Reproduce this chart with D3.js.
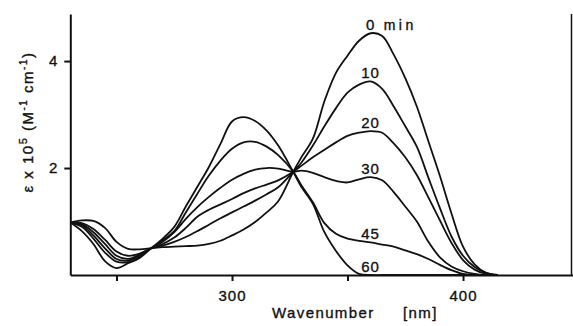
<!DOCTYPE html>
<html>
<head>
<meta charset="utf-8">
<script src="https://cdnjs.cloudflare.com/ajax/libs/d3/7.8.5/d3.min.js"></script>
<style>
  body { margin: 0; background: #fff; }
  svg { display: block; font-family: "Liberation Sans", Arial, sans-serif; }
  .lbl { fill: #111; stroke: #111; stroke-width: 0.35px; }
</style>
</head>
<body>
<script>
// wavelength grid (nm) and absorbance readings (x 10^5) for each irradiation time
var wavelengths = [230,235,240,245,250,255,260,265,270,275,280,285,290,295,300,305,310,315,320,326.5,
                   330,335,340,345,350,355,360,365,370,375,380,385,390,395,400,405,410,415];
var times = [0, 10, 20, 30, 45, 60];
var eps_0 = [0.98,1.02,1.01,0.88,0.62,0.49,0.48,0.50,0.52,0.53,0.54,0.55,0.58,0.64,0.74,0.85,0.99,1.17,1.38,1.93,
             2.2,2.55,3.25,3.78,4.1,4.38,4.52,4.47,4.12,3.68,3.15,2.5,1.85,1.15,0.53,0.2,0.04,0];
var eps_10 = [0.98,0.97,0.86,0.66,0.44,0.36,0.40,0.50,0.55,0.62,0.71,0.82,0.94,1.06,1.17,1.28,1.39,1.51,1.64,1.93,
              2.1,2.42,2.78,3.12,3.41,3.56,3.62,3.48,3.15,2.78,2.4,1.82,1.25,0.72,0.36,0.15,0.04,0];
var eps_20 = [0.98,0.95,0.8,0.58,0.36,0.3,0.38,0.50,0.58,0.7,0.88,1.09,1.22,1.32,1.42,1.53,1.62,1.69,1.77,1.93,
              2.04,2.2,2.34,2.48,2.6,2.66,2.69,2.66,2.46,2.2,1.87,1.45,1.02,0.6,0.28,0.1,0.02,0];
var eps_30 = [0.98,0.93,0.74,0.5,0.3,0.27,0.36,0.50,0.62,0.8,1.05,1.27,1.46,1.63,1.78,1.89,1.97,2.0,1.99,1.93,
              1.95,1.91,1.83,1.76,1.73,1.79,1.83,1.77,1.55,1.28,1.0,0.62,0.33,0.16,0.07,0.02,0,0];
var eps_45 = [0.98,0.9,0.68,0.42,0.25,0.24,0.34,0.50,0.65,0.82,1.17,1.52,1.86,2.14,2.36,2.48,2.49,2.4,2.24,1.93,
              1.68,1.36,0.97,0.77,0.68,0.64,0.61,0.57,0.53,0.46,0.39,0.3,0.19,0.09,0.02,0,0,0];
var eps_60 = [0.98,0.82,0.58,0.26,0.13,0.22,0.32,0.50,0.68,0.9,1.28,1.65,2.02,2.45,2.87,2.95,2.88,2.7,2.42,1.93,
              1.65,1.33,0.8,0.45,0.18,0.02,0,0,0,0,0,0,0,0,0,0,0,0];
var xTicks = [250, 300, 350, 400];
var xTickLabels = ["", "300", "", "400"];
var yTicks = [2, 4];

var series = [eps_0, eps_10, eps_20, eps_30, eps_45, eps_60];
var width = 573, height = 326;

var svg = d3.select('body').append('svg').attr('width', width).attr('height', height);

var x = d3.scaleLinear().domain([230, 447.6]).range([70.3, 573]);
var y = d3.scaleLinear().domain([0, 4.88]).range([275, 14]);

// axes
var xAxis = svg.append('g').attr('transform', 'translate(0,275)')
  .call(d3.axisBottom(x).tickValues(xTicks).tickSize(6).tickSizeOuter(0)
    .tickFormat(function (d, i) { return xTickLabels[i]; }));
var yAxis = svg.append('g').attr('transform', 'translate(70.3,0)')
  .call(d3.axisLeft(y).tickValues(yTicks).tickSize(6).tickSizeOuter(0).tickFormat(d3.format('d')));

[xAxis, yAxis].forEach(function (a) {
  a.select('.domain').attr('stroke', '#111').attr('stroke-width', 2);
  a.selectAll('.tick line').attr('stroke', '#111').attr('stroke-width', 2);
  a.selectAll('.tick text').attr('class', 'lbl').style('font-size', '15px').style('letter-spacing', '1px');
});
xAxis.selectAll('.tick text').attr('dy', '1.15em');
yAxis.selectAll('.tick text').attr('x', -12);

// right frame line
svg.append('line').attr('x1', 571.5).attr('x2', 571.5).attr('y1', y(4.88)).attr('y2', y(0))
  .attr('stroke', '#111').attr('stroke-width', 1.5);

// spectra
var line = d3.line()
  .x(function (d, i) { return x(wavelengths[i]); })
  .y(function (d) { return y(d); })
  .curve(d3.curveCatmullRom.alpha(0.5));

svg.append('g').selectAll('path').data(series).enter().append('path')
  .attr('d', line)
  .attr('fill', 'none')
  .attr('stroke', '#111')
  .attr('stroke-width', 1.8)
  .attr('stroke-linejoin', 'round');

// time labels above each curve near 360 nm
var i360 = wavelengths.indexOf(360);
svg.append('g').selectAll('text').data(times).enter().append('text')
  .attr('class', 'lbl')
  .attr('x', x(360))
  .attr('y', function (d, i) { return y(series[i][i360]) - 3; })
  .attr('text-anchor', 'middle')
  .style('font-size', '15px')
  .style('letter-spacing', '1px')
  .text(function (d) { return d; });
svg.append('text').attr('class', 'lbl')
  .attr('x', x(360) + 13).attr('y', y(eps_0[i360]) - 3)
  .style('font-size', '14px').style('letter-spacing', '3.5px')
  .text('min');

// axis titles
var xt = svg.append('text').attr('class', 'lbl').attr('x', 272).attr('y', 318)
  .style('font-size', '15px').style('letter-spacing', '1.4px');
xt.append('tspan').text('Wavenumber');
xt.append('tspan').attr('x', 403).text('[nm]');

var yt = svg.append('text').attr('class', 'lbl')
  .attr('transform', 'translate(33,122) rotate(-90)')
  .attr('text-anchor', 'middle')
  .style('font-size', '15px').style('letter-spacing', '1.5px');
yt.append('tspan').text('\u03b5 x 10');
yt.append('tspan').attr('dy', -6).style('font-size', '11px').text('5');
yt.append('tspan').attr('dy', 6).text('  (M');
yt.append('tspan').attr('dy', -6).style('font-size', '10px').text('-1');
yt.append('tspan').attr('dy', 6).text(' cm');
yt.append('tspan').attr('dy', -6).style('font-size', '10px').text('-1');
yt.append('tspan').attr('dy', 6).text(')');
</script>
</body>
</html>
